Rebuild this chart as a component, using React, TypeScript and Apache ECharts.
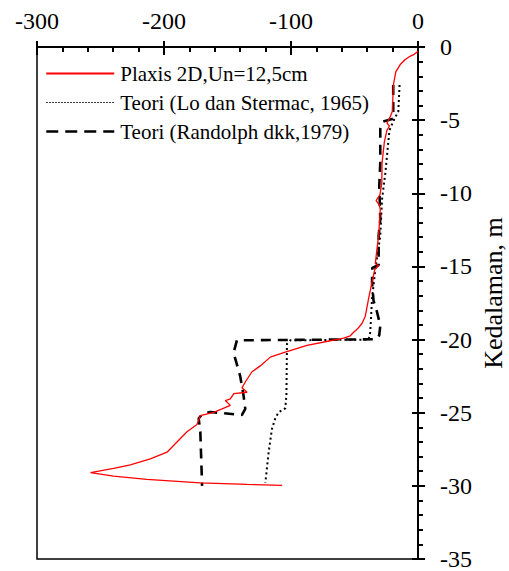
import React, { useEffect, useRef } from "react";
import * as echarts from "echarts";

const FONT = "'Liberation Serif', 'Times New Roman', serif";

const seriesNames = [
  "Plaxis 2D,Un=12,5cm",
  "Teori (Lo dan Stermac, 1965)",
  "Teori (Randolph dkk,1979)",
];

const xTicks = { min: -300, max: 0, interval: 100 };
const yTicks = { min: -35, max: 0, interval: 5 };

const plaxisX = [
  0, -3, -6, -10, -14, -17.5, -19.2, -19.8, -20.2, -21.8, -24.4, -22.5, -24.5, -26.5, -28.3, -28.5, -30, -33,
  -30.5, -29.7, -31, -32.3, -33.6, -31, -34, -36.5, -38.9, -41.5, -44.1, -48, -50.7, -53.3, -58.6, -69, -87.4,
  -105.8, -116.3, -124.2, -130.7, -136, -138.6, -134.6, -145, -147.8, -151.7, -147.8, -154.3, -160.9, -171.4,
  -174, -181.9, -189.8, -197.6, -210.8, -226.5, -239.7, -257.8, -239.7, -213.5, -171.4, -134.6, -107,
];
const plaxisY = [
  -0.3, -0.5, -0.62, -0.85, -1.2, -1.7, -2.5, -3.5, -4.4, -4.75, -5.2, -5.4, -5.7, -6.5, -7.9, -9.3, -10.1, -10.5,
  -10.8, -11.1, -12.9, -13.8, -14.8, -14.95, -15.2, -16.2, -17.2, -18.4, -18.9, -19.3, -19.5, -19.74, -19.9, -20.08,
  -20.4, -20.9, -21.2, -21.8, -22.2, -22.9, -23.3, -23.6, -23.7, -24.06, -24.17, -24.5, -24.74, -24.97, -25.2, -25.8,
  -26.3, -27.0, -27.7, -28.15, -28.56, -28.8, -29.1, -29.33, -29.56, -29.79, -29.9, -29.97,
];

const loX = [
  -14.5, -15.5, -19, -22.5, -25.7, -28.3, -29.7, -33.6, -36.2, -37.6, -38.9, -100.5, -103.2, -103.6, -104.5, -109.8,
  -112.4, -115, -117.6, -120.2,
];
const loY = [
  -2.6, -4.4, -5.0, -5.7, -8.6, -10.4, -12.9, -15.2, -17.2, -19.5, -20.0, -20.05, -20.3, -23.8, -24.7, -24.97, -25.4,
  -26.1, -27.7, -29.8,
];

const randX = [
  -19.5, -19.5, -27.5, -29.7, -29.7, -30.5, -29.7, -31, -31, -36, -36.2, -35, -32.3, -29.7, -30.5, -33, -142.6,
  -145.2, -140, -137.4, -136, -138.6, -163.5, -170, -172.7, -171.4, -170,
];
const randY = [
  -2.6, -4.9, -5.1, -5.6, -7.9, -9.5, -11.8, -12.9, -14.9, -15.1, -16.1, -17.35, -18.1, -19.05, -19.7, -19.98, -20.05,
  -20.9, -22.5, -23.8, -24.74, -25.15, -24.95, -25.1, -25.4, -26.3, -30,
];

const zip = (xs: number[], ys: number[]) => xs.map((x, i) => [x, ys[i]]);

export default function App() {
  const ref = useRef<HTMLDivElement>(null);
  useEffect(() => {
    document.body.style.margin = "0";
    const chart = echarts.init(ref.current!, undefined, { renderer: "svg" });
    const baseX = {
      type: "value" as const,
      position: "top" as const,
      min: xTicks.min,
      max: xTicks.max,
      interval: xTicks.interval,
      splitLine: { show: false },
    };
    const baseY = {
      type: "value" as const,
      position: "right" as const,
      min: yTicks.min,
      max: yTicks.max,
      interval: yTicks.interval,
      splitLine: { show: false },
    };
    chart.setOption({
      animation: false,
      backgroundColor: "#ffffff",
      grid: {
        left: 37,
        right: 91,
        top: 47,
        bottom: 11,
        show: true,
        borderColor: "#000",
        borderWidth: 1.5,
      },
      xAxis: [
        {
          ...baseX,
          axisLine: { show: true, lineStyle: { color: "#000", width: 2 } },
          axisTick: { show: true, inside: false, length: 6, lineStyle: { color: "#000", width: 2 } },
          minorTick: { show: false },
          axisLabel: { show: true, color: "#000", fontSize: 24, fontFamily: FONT, margin: 14 },
        },
        {
          ...baseX,
          axisLine: { show: false },
          axisTick: { show: true, inside: true, length: 8, lineStyle: { color: "#000", width: 2 } },
          minorTick: { show: true, splitNumber: 5, length: 5, lineStyle: { color: "#000", width: 2 } },
          axisLabel: { show: false },
        },
      ],
      yAxis: [
        {
          ...baseY,
          axisLine: { show: true, lineStyle: { color: "#000", width: 2 } },
          axisTick: { show: true, inside: false, length: 7, lineStyle: { color: "#000", width: 2 } },
          minorTick: { show: true, splitNumber: 5, length: 5, lineStyle: { color: "#000", width: 2 } },
          axisLabel: { show: true, color: "#000", fontSize: 24, fontFamily: FONT, margin: 22 },
        },
        {
          ...baseY,
          axisLine: { show: false },
          axisTick: { show: true, inside: true, length: 6, lineStyle: { color: "#000", width: 2 } },
          minorTick: { show: false },
          axisLabel: { show: false },
        },
      ],
      legend: {
        orient: "vertical",
        left: 40,
        top: 58,
        itemWidth: 68,
        itemHeight: 14,
        itemGap: 8,
        icon: "inherit",
        itemStyle: { opacity: 0 },
        textStyle: { color: "#000", fontSize: 21, fontFamily: FONT, padding: [0, 0, 0, 1] },
        data: [
          { name: seriesNames[0] },
          { name: seriesNames[1], lineStyle: { width: 1.2, type: [1.5, 1.5] } },
          { name: seriesNames[2], lineStyle: { width: 2.5, type: [12, 7] } },
        ],
      },
      graphic: [
        {
          type: "text",
          x: 493,
          y: 293,
          rotation: Math.PI / 2,
          style: {
            text: "Kedalaman, m",
            fill: "#000",
            fontSize: 26,
            fontFamily: FONT,
            align: "center",
            verticalAlign: "middle",
          },
        },
      ],
      series: [
        {
          name: seriesNames[0],
          type: "line",
          data: zip(plaxisX, plaxisY),
          showSymbol: false,
          symbol: "none",
          lineStyle: { color: "#ff0000", width: 1.3 },
          itemStyle: { color: "#ff0000" },
          z: 3,
        },
        {
          name: seriesNames[1],
          type: "line",
          data: zip(loX, loY),
          showSymbol: false,
          symbol: "none",
          lineStyle: { color: "#000", width: 2, type: [2, 3] },
          itemStyle: { color: "#000" },
          z: 2,
        },
        {
          name: seriesNames[2],
          type: "line",
          data: zip(randX, randY),
          showSymbol: false,
          symbol: "none",
          lineStyle: { color: "#000", width: 2.6, type: [10, 7] },
          itemStyle: { color: "#000" },
          z: 2,
        },
      ],
    });
    return () => chart.dispose();
  }, []);
  return <div ref={ref} style={{ position: "fixed", left: 0, top: 0, width: 509, height: 571 }} />;
}
